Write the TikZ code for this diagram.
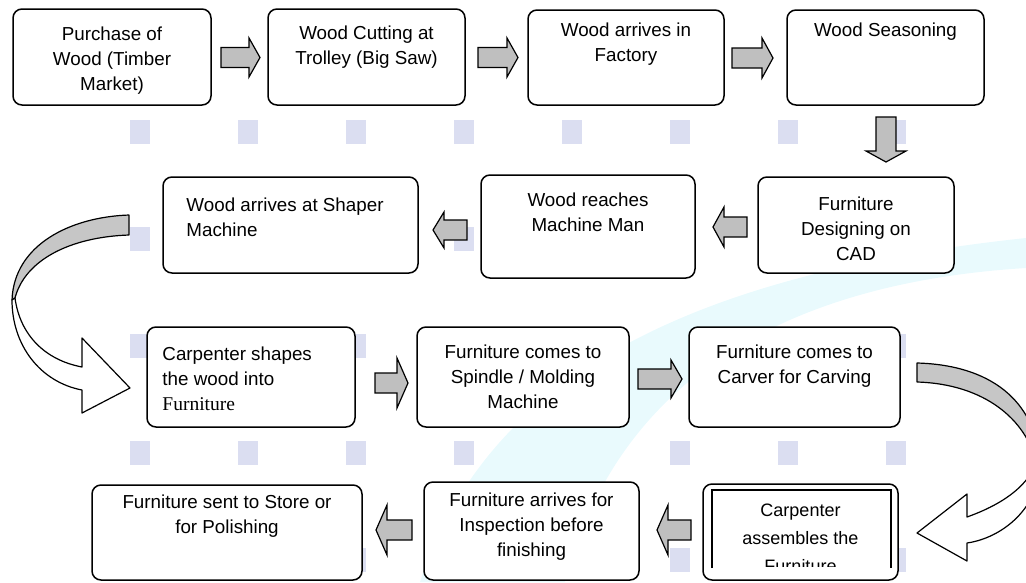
\documentclass[tikz,border=0pt]{standalone}
\usepackage{fontspec}
\setmainfont{Liberation Sans}
\newfontfamily\timesfont{Liberation Serif}
\usetikzlibrary{positioning}
\definecolor{wmark}{RGB}{219,222,241}
\definecolor{swoosh}{RGB}{233,250,253}

% block arrow: name, centre, angle, length, half width of the head
\newcommand{\blockarrow}[5]{%
    \coordinate (#1) at #2;
    \filldraw[barrow, shift={#2}, rotate=#3]
        (-#4/2,-10) -- (#4/2-11,-10) -- (#4/2-11,-#5) -- (#4/2,0)
        -- (#4/2-11,#5) -- (#4/2-11,10) -- (-#4/2,10) -- cycle;}

\begin{document}
\begin{tikzpicture}[x=1pt, y=-1pt,
    box/.style={draw, rounded corners=9pt, line width=1.5pt, fill=white, inner sep=0pt},
    txt/.style={inner sep=0pt, align=center, font=\fontsize{18.8}{25}\selectfont},
    ltxt/.style={txt, align=left},
    barrow/.style={fill=gray!50, draw, line width=1.2pt, line join=miter},
    ribbon/.style={draw, line width=1.2pt, line join=round}]

\useasboundingbox (0,0) rectangle (1026,582);

% faint squares and swoosh in the background
\foreach \i in {0,...,7}
    \foreach \j in {0,...,4}
        \fill[wmark] (130+108*\i, 120+107*\j) rectangle ++(20,24);
\fill[swoosh] (420,582) .. controls (480,400) and (650,278) .. (1026,238)
    -- (1026,268) .. controls (800,282) and (620,370) .. (565,582) -- cycle;

% row 1
\node[box, minimum width=198pt, minimum height=96pt] (purchase) at (112,57) {};
\node[box, minimum width=197pt, minimum height=96pt] (cutting) at (366.5,57) {};
\node[box, minimum width=196pt, minimum height=95pt] (arrives) at (626,57.5) {};
\node[box, minimum width=197pt, minimum height=95pt] (season) at (885.5,57.5) {};
\node[txt, below=18pt of purchase.north] (purchaseT) {Purchase of\\Wood (Timber\\Market)};
\node[txt, below=17pt of cutting.north] (cuttingT) {Wood Cutting at\\Trolley (Big Saw)};
\node[txt, below=13pt of arrives.north] (arrivesT) {Wood arrives in\\Factory};
\node[txt, below=13pt of season.north] (seasonT) {Wood Seasoning};

% row 2
\node[box, minimum width=196pt, minimum height=96pt] (cad) at (856,225) {};
\node[box, minimum width=214pt, minimum height=103pt] (machman) at (588,226.5) {};
\node[box, minimum width=255pt, minimum height=96pt] (shaper) at (290.5,225) {};
\node[txt, below=20pt of cad.north] (cadT) {Furniture\\Designing on\\CAD};
\node[txt, below=18pt of machman.north] (machmanT) {Wood reaches\\Machine Man};
\node[ltxt, below right=21pt and 24pt of shaper.north west] (shaperT) {Wood arrives at Shaper\\Machine};

% row 3
\node[box, minimum width=208pt, minimum height=100pt] (shapes) at (251,377) {};
\node[box, minimum width=212pt, minimum height=100pt] (spindle) at (523,377) {};
\node[box, minimum width=211pt, minimum height=100pt] (carver) at (794.5,377) {};
\node[ltxt, below right=20pt and 16pt of shapes.north west] (shapesT)
    {Carpenter shapes\\the wood into\\{\timesfont\fontsize{19.5}{25}\selectfont Furniture}};
\node[txt, below=18pt of spindle.north] (spindleT) {Furniture comes to\\Spindle / Molding\\Machine};
\node[txt, below=18pt of carver.north] (carverT) {Furniture comes to\\Carver for Carving};

% row 4
\node[box, minimum width=270pt, minimum height=95pt] (store) at (227,532.5) {};
\node[box, minimum width=215pt, minimum height=98pt] (inspect) at (531.5,531) {};
\node[box, minimum width=195pt, minimum height=96pt] (assemble) at (800.5,532) {};
\node[txt, below=10pt of store.north] (storeT) {Furniture sent to Store or\\for Polishing};
\node[txt, below=11pt of inspect.north] (inspectT) {Furniture arrives for\\Inspection before\\finishing};
\draw[line width=1.8pt] (712,568) |- (891,490) -- (891,568);
\begin{scope}
    \clip (712,490) rectangle (891,566);
    \node[txt, font=\fontsize{18}{28}\selectfont, below=20pt of assemble.north] (assembleT)
        {Carpenter\\assembles the\\Furniture};
\end{scope}

% block arrows
\blockarrow{ar1}{(240.5,57.5)}{0}{39}{19.5}
\blockarrow{ar2}{(498,57.5)}{0}{40}{19.5}
\blockarrow{ar3}{(752.5,58)}{0}{41}{20}
\blockarrow{ar4}{(886,139.5)}{-90}{45}{20}
\blockarrow{ar5}{(730,227)}{180}{34}{20}
\blockarrow{ar6}{(450,230)}{180}{34}{18}
\blockarrow{ar8}{(391.5,383)}{0}{33}{25}
\blockarrow{ar9}{(660,379)}{0}{44}{19}
\blockarrow{ar11}{(674,530)}{180}{34}{25}
\blockarrow{ar12}{(394,530)}{180}{36}{25}

% curved arrow on the left
\filldraw[ribbon, fill=gray!45] (129,215) .. controls (70,217) and (14,245) .. (12,300)
    -- (15,298) .. controls (25,260) and (70,237) .. (129,235) -- cycle;
\filldraw[ribbon, fill=white] (12,300) .. controls (12,345) and (40,382) .. (82,390)
    -- (82,413) -- (130,388) -- (82,338) -- (82,367)
    .. controls (45,360) and (20,335) .. (15,298) -- cycle;

% curved arrow on the right
\begin{scope}
    \clip (0,0) rectangle (1026,582);
    \filldraw[ribbon, fill=gray!45] (917,363) .. controls (990,365) and (1035,400) .. (1040,462)
        -- (1036,462) .. controls (1026,420) and (985,384) .. (917,382) -- cycle;
    \filldraw[ribbon, fill=white] (1040,462) .. controls (1040,508) and (1002,538) .. (967,543)
        -- (967,561) -- (917,533) -- (967,494) -- (967,517)
        .. controls (998,506) and (1028,488) .. (1036,462) -- cycle;
\end{scope}
\end{tikzpicture}
\end{document}
